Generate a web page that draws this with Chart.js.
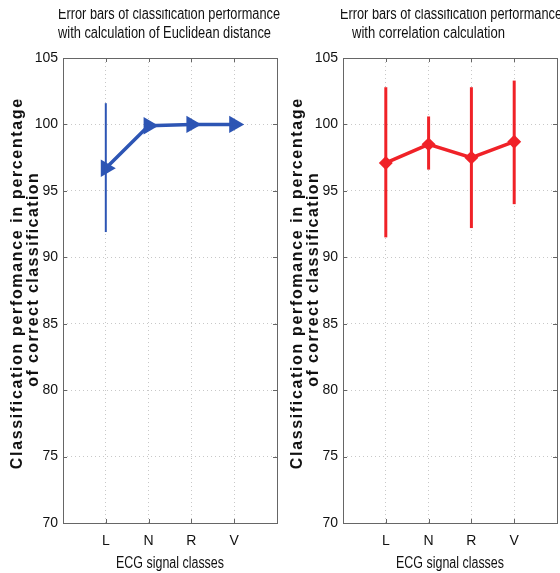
<!DOCTYPE html>
<html>
<head>
<meta charset="utf-8">
<script src="https://cdn.jsdelivr.net/npm/chart.js@4/dist/chart.umd.min.js"></script>
<style>
  body { margin: 0; background: #fff; }
  #wrap { position: relative; width: 560px; height: 573px; overflow: hidden; }
  canvas { position: absolute; top: 0; }
</style>
</head>
<body>
<div id="wrap">
  <canvas id="left" width="287" height="573" style="left:0"></canvas>
  <canvas id="right" width="287" height="573" style="left:280px"></canvas>
</div>
<script>
var classes = ["L", "N", "R", "V"];
var classPos = [1, 2, 3, 4];
var yTicks = [70, 75, 80, 85, 90, 95, 100, 105];

// euclidean distance
var eucMean = [96.7, 99.9, 100.0, 100.0];
var eucLow = [91.9, 99.9, 100.0, 100.0];
var eucHigh = [101.6, 99.9, 100.0, 100.0];

// correlation
var corMean = [97.1, 98.5, 97.5, 98.7];
var corLow = [91.5, 96.6, 92.2, 94.0];
var corHigh = [102.8, 100.6, 102.8, 103.3];

var sans = '"Liberation Sans", Arial, sans-serif';

// draw text squeezed/stretched to a given width
function fitText(ctx, text, x, y, width, align) {
    var w = ctx.measureText(text).width;
    var k = width / w;
    ctx.save();
    ctx.translate(x, y);
    ctx.scale(k, 1);
    ctx.textAlign = align || "left";
    ctx.fillText(text, 0, 0);
    ctx.restore();
}

function spacedText(ctx, text, cx, y, width) {
    ctx.letterSpacing = "0px";
    var w = ctx.measureText(text).width;
    var s = (width - w) / text.length;
    ctx.letterSpacing = s + "px";
    ctx.textAlign = "center";
    ctx.fillText(text, cx + s / 2, y);
    ctx.letterSpacing = "0px";
}

var frame = {
    id: "frame",
    afterDraw: function (chart, args, opts) {
        var ctx = chart.ctx, a = chart.chartArea;
        var xs = chart.scales.x, ys = chart.scales.y;
        ctx.save();
        ctx.strokeStyle = "#666";
        ctx.lineWidth = 1;
        ctx.strokeRect(Math.round(a.left) + 0.5, Math.round(a.top) + 0.5, Math.round(a.right - a.left), Math.round(a.bottom - a.top));
        // inward tick marks
        ctx.beginPath();
        classPos.forEach(function (p) {
            var x = Math.round(xs.getPixelForValue(p)) + 0.5;
            ctx.moveTo(x, a.top); ctx.lineTo(x, a.top + 4);
            ctx.moveTo(x, a.bottom); ctx.lineTo(x, a.bottom - 4);
        });
        yTicks.forEach(function (v) {
            var y = Math.round(ys.getPixelForValue(v)) + 0.5;
            ctx.moveTo(a.left, y); ctx.lineTo(a.left + 4, y);
            ctx.moveTo(a.right, y); ctx.lineTo(a.right - 4, y);
        });
        ctx.stroke();

        // titles
        ctx.fillStyle = "#111";
        ctx.textBaseline = "alphabetic";
        ctx.font = "16px " + sans;
        ctx.save();
        ctx.beginPath();
        ctx.rect(0, 9, chart.width, 20);
        ctx.clip();
        fitText(ctx, opts.title[0], opts.titleX[0], 19, 222);
        ctx.restore();
        fitText(ctx, opts.title[1], opts.titleX[1], 38, opts.title2W);

        // x axis title
        ctx.font = "16px " + sans;
        fitText(ctx, "ECG signal classes", (a.left + a.right) / 2, 568, 108, "center");

        // y axis title
        ctx.rotate(-Math.PI / 2);
        ctx.font = "bold 16px " + sans;
        spacedText(ctx, "Classification perfomance in percentage", -284, 22, 372);
        spacedText(ctx, "of correct classification", -280, 38, 215);
        ctx.restore();
    }
};

function errorSets(low, high, color, width) {
    return classPos.map(function (p, i) {
        return {
            data: [{ x: p, y: low[i] }, { x: p, y: high[i] }],
            borderColor: color,
            borderWidth: width,
            pointRadius: 0,
            fill: false
        };
    });
}

function makeChart(id, mean, low, high, color, style, radius, errW, title, titleX, title2W) {
    var main = {
        data: classPos.map(function (p, i) { return { x: p, y: mean[i] }; }),
        borderColor: color,
        backgroundColor: color,
        borderWidth: 3.5,
        pointStyle: style,
        rotation: style === "triangle" ? 90 : 0,
        pointRadius: radius,
        pointBorderColor: color,
        pointBackgroundColor: color,
        fill: false
    };
    return new Chart(document.getElementById(id), {
        type: "line",
        data: { datasets: errorSets(low, high, color, errW).concat([main]) },
        options: {
            responsive: false,
            animation: false,
            layout: { padding: { top: 58, right: 0, left: 0, bottom: 0 } },
            plugins: {
                legend: { display: false },
                tooltip: { enabled: false },
                frame: { title: title, titleX: titleX, title2W: title2W }
            },
            scales: {
                x: {
                    type: "linear",
                    min: 0,
                    max: 5,
                    ticks: {
                        stepSize: 1,
                        padding: 10,
                        color: "#111",
                        font: { family: sans, size: 14 },
                        callback: function (v) { return classes[v - 1] || ""; }
                    },
                    grid: { color: "#c8c8c8", drawTicks: false },
                    border: { display: false, dash: [1, 3] },
                    afterFit: function (s) { s.height = 50; }
                },
                y: {
                    min: 70,
                    max: 105,
                    ticks: {
                        stepSize: 5,
                        padding: 5,
                        color: "#111",
                        font: { family: sans, size: 14 }
                    },
                    grid: { color: "#c8c8c8", drawTicks: false },
                    border: { display: false, dash: [1, 3] },
                    afterFit: function (s) { s.width = 63; }
                }
            }
        },
        plugins: [frame]
    });
}

makeChart("left", eucMean, eucLow, eucHigh, "#2d55b4", "triangle", 6.5, 2,
    ["Error bars of classification performance", "with calculation of Euclidean distance"], [58, 58], 213);
makeChart("right", corMean, corLow, corHigh, "#f02228", "rectRot", 4.5, 3,
    ["Error bars of classification performance", "with correlation calculation"], [60, 72], 153);
</script>
</body>
</html>
